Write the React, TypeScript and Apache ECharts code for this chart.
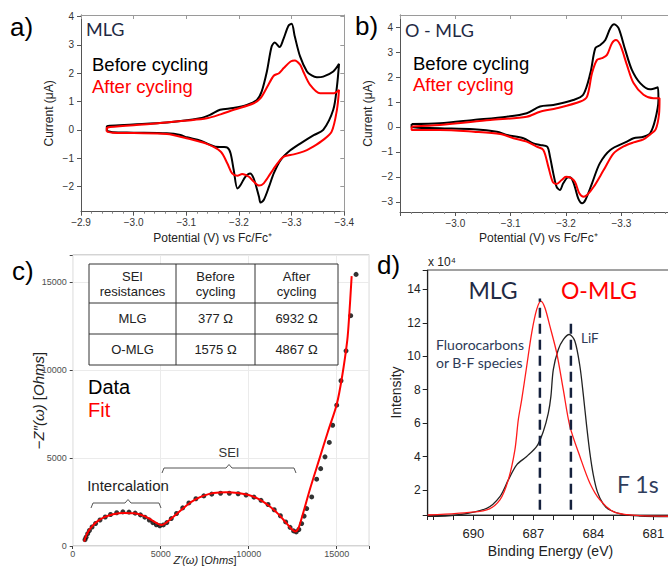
import React, { useEffect, useRef } from 'react';
import * as echarts from 'echarts';

type P = [number, number];

// ---------- Panel a (MLG) : potential (V) , current (µA) ----------
const aBefore: P[] = [
  [-2.949, -0.04], [-2.96, -0.08], [-3.0, -0.095], [-3.063, -0.12], [-3.089, -0.18], [-3.101, -0.26],
  [-3.127, -0.38], [-3.146, -0.53], [-3.155, -0.59], [-3.17, -0.6], [-3.178, -0.62], [-3.184, -0.82],
  [-3.19, -1.41], [-3.197, -2.06], [-3.203, -1.94], [-3.212, -1.65], [-3.221, -1.53], [-3.228, -1.71],
  [-3.238, -2.35], [-3.241, -2.56], [-3.247, -2.47], [-3.257, -2.0], [-3.266, -1.53], [-3.279, -1.06],
  [-3.298, -0.71], [-3.317, -0.47], [-3.342, -0.18], [-3.36, 0.0], [-3.379, 0.71], [-3.386, 1.53],
  [-3.39, 2.33], [-3.379, 2.06], [-3.36, 1.88], [-3.348, 1.86], [-3.338, 1.92], [-3.329, 2.06],
  [-3.316, 2.59], [-3.306, 3.29], [-3.3, 3.74], [-3.294, 3.67], [-3.284, 3.18], [-3.277, 2.92],
  [-3.268, 3.08], [-3.262, 2.94], [-3.253, 2.06], [-3.243, 1.35], [-3.234, 1.06], [-3.215, 0.88],
  [-3.189, 0.77], [-3.164, 0.71], [-3.145, 0.53], [-3.126, 0.41], [-3.063, 0.26], [-2.999, 0.19],
  [-2.955, 0.15], [-2.949, 0.12], [-2.949, -0.04],
];
const aAfter: P[] = [
  [-2.949, -0.06], [-2.96, -0.1], [-3.0, -0.11], [-3.063, -0.14], [-3.1, -0.29], [-3.139, -0.49],
  [-3.165, -0.76], [-3.178, -1.18], [-3.187, -1.53], [-3.197, -1.61], [-3.206, -1.55], [-3.219, -1.65],
  [-3.228, -1.82], [-3.238, -1.96], [-3.247, -1.88], [-3.26, -1.53], [-3.273, -1.18], [-3.285, -0.94],
  [-3.304, -0.86], [-3.316, -0.8], [-3.329, -0.71], [-3.341, -0.59], [-3.36, -0.35], [-3.376, -0.06],
  [-3.386, 0.71], [-3.39, 1.41], [-3.379, 1.29], [-3.354, 1.29], [-3.335, 1.59], [-3.322, 2.06],
  [-3.316, 2.3], [-3.306, 2.45], [-3.298, 2.41], [-3.285, 2.18], [-3.276, 2.0], [-3.266, 1.91],
  [-3.254, 1.53], [-3.241, 1.12], [-3.228, 0.94], [-3.19, 0.71], [-3.165, 0.55], [-3.139, 0.41],
  [-3.101, 0.33], [-3.031, 0.21], [-2.955, 0.1], [-2.949, 0.06], [-2.949, -0.06],
];

// ---------- Panel b (O-MLG) ----------
const bBefore: P[] = [
  [-2.921, 0.12], [-2.972, 0.15], [-3.033, 0.28], [-3.093, 0.41], [-3.129, 0.55], [-3.153, 0.82],
  [-3.177, 0.88], [-3.213, 1.08], [-3.231, 1.29], [-3.244, 2.16], [-3.253, 3.16], [-3.262, 3.29],
  [-3.271, 3.49], [-3.28, 3.96], [-3.287, 4.12], [-3.295, 3.96], [-3.307, 3.09], [-3.319, 2.29],
  [-3.334, 1.76], [-3.352, 1.51], [-3.366, 1.59], [-3.367, 1.08], [-3.361, 0.28], [-3.352, -0.25],
  [-3.34, -0.39], [-3.322, -0.45], [-3.31, -0.59], [-3.28, -0.92], [-3.261, -1.46], [-3.247, -2.26],
  [-3.235, -2.93], [-3.229, -3.06], [-3.222, -2.86], [-3.216, -2.4], [-3.21, -2.06], [-3.204, -2.02],
  [-3.195, -2.26], [-3.189, -2.53], [-3.183, -2.4], [-3.177, -1.86], [-3.171, -1.19], [-3.166, -0.79],
  [-3.153, -0.72], [-3.141, -0.66], [-3.123, -0.45], [-3.093, -0.32], [-3.075, -0.19], [-3.033, -0.09],
  [-2.972, -0.05], [-2.921, -0.01], [-2.921, 0.12],
];
const bAfter: P[] = [
  [-2.921, 0.02], [-2.972, 0.08], [-3.063, 0.28], [-3.129, 0.41], [-3.153, 0.61], [-3.183, 0.75],
  [-3.226, 1.02], [-3.238, 1.22], [-3.247, 2.16], [-3.256, 2.69], [-3.265, 2.76], [-3.274, 2.89],
  [-3.283, 3.36], [-3.29, 3.49], [-3.298, 3.29], [-3.31, 2.49], [-3.322, 1.76], [-3.34, 1.29],
  [-3.358, 1.15], [-3.369, 1.15], [-3.368, 0.5], [-3.362, -0.1], [-3.352, -0.3], [-3.34, -0.5],
  [-3.322, -0.62], [-3.304, -0.78], [-3.286, -1.06], [-3.268, -1.73], [-3.25, -2.4], [-3.238, -2.73],
  [-3.232, -2.8], [-3.224, -2.66], [-3.216, -2.2], [-3.207, -2.02], [-3.2, -2.0], [-3.192, -2.13],
  [-3.183, -2.29], [-3.176, -2.2], [-3.168, -1.59], [-3.159, -0.92], [-3.147, -0.79], [-3.129, -0.59],
  [-3.105, -0.45], [-3.081, -0.28], [-3.033, -0.19], [-2.972, -0.12], [-2.921, -0.12], [-2.921, 0.02],
];

// ---------- Panel c (Nyquist) ----------
const cDataZr = [700, 760, 850, 950, 1100, 1300, 1550, 1850, 2150, 2500, 2850, 3200, 3550, 3850, 4100, 4350,
  4550, 4750, 4950, 5150, 5350, 5600, 5900, 6250, 6600, 7000, 7450, 7900, 8400, 8900, 9400, 9850, 10300,
  10700, 11100, 11450, 11800, 12100, 12350, 12550, 12700, 12850, 13010, 13150, 13295, 13580, 13860, 14090,
  14335, 14580, 14770, 15000, 15245, 15530, 15795, 16100];
const cDataZi = [360, 500, 700, 880, 1080, 1280, 1480, 1650, 1790, 1890, 1940, 1930, 1870, 1770, 1640, 1480,
  1330, 1210, 1150, 1200, 1330, 1560, 1850, 2170, 2450, 2690, 2850, 2950, 3000, 3000, 2970, 2900, 2780,
  2600, 2360, 2060, 1720, 1370, 1060, 860, 800, 940, 1275, 1700, 2130, 2790, 3800, 4400,
  5070, 5890, 6870, 8010, 9400, 11100, 13100, 15450];
const cFitZr = [650, 750, 900, 1100, 1400, 1800, 2300, 2900, 3500, 4000, 4400, 4700, 4900, 5050, 5250, 5600,
  6000, 6500, 7000, 7500, 8000, 8700, 9400, 10000, 10600, 11200, 11700, 12100, 12400, 12650, 12800, 13000,
  13500, 14000, 14500, 15000, 15300, 15600, 15710, 15850];
const cFitZi = [250, 550, 850, 1120, 1400, 1640, 1810, 1880, 1860, 1730, 1530, 1340, 1230, 1200, 1280, 1560,
  1900, 2330, 2660, 2880, 3010, 3060, 3020, 2900, 2650, 2250, 1800, 1350, 1000, 820, 950, 1550,
  3300, 4900, 6500, 8050, 9600, 11700, 13100, 15350];

const tableHeader = ['SEI\nresistances', 'Before\ncycling', 'After\ncycling'];
const tableRows = [
  ['MLG', '377 Ω', '6932 Ω'],
  ['O-MLG', '1575 Ω', '4867 Ω'],
];

// ---------- Panel d (XPS F 1s), intensity x10^4 ----------
const dRed: P[] = [
  [692.28, 0.5], [690.83, 0.6], [689.33, 0.8], [688.67, 1.4], [688.25, 2.6], [687.92, 4.4], [687.75, 6.2],
  [687.58, 7.4], [687.33, 9.4], [687.08, 11.4], [686.83, 12.8], [686.62, 13.3], [686.42, 12.9],
  [686.17, 11.8], [685.83, 10.2], [685.5, 8.0], [685.17, 5.8], [684.67, 4.0], [684.17, 2.4], [683.67, 1.4],
  [683.0, 0.7], [682.3, 0.52], [681.67, 0.46], [680.0, 0.42],
];
const dBlack: P[] = [
  [692.28, 0.42], [690.83, 0.5], [689.33, 0.9], [688.67, 1.6], [688.25, 2.6], [687.83, 3.5], [687.33, 4.0],
  [686.83, 4.6], [686.5, 5.5], [686.25, 6.6], [686.12, 7.6], [686.0, 9.2], [685.75, 10.4], [685.5, 11.0],
  [685.2, 11.3], [684.92, 10.9], [684.67, 9.4], [684.5, 7.7], [684.33, 5.8], [684.17, 4.2], [684.0, 2.9],
  [683.8, 1.9], [683.5, 1.15], [683.17, 0.8], [682.5, 0.52], [681.67, 0.44], [680.0, 0.4],
];
const dPeakE = [686.67, 685.12];
const dPeakTop = [13.46, 12.27];
const dPeakBase = 0.82;

const SANS = "'Liberation Sans', Arial, sans-serif";
const CAL = "Lato, 'Noto Sans', sans-serif";
const NAVY = '#1f2a44';

const isInt = (v: number) => Math.abs(v - Math.round(v)) < 1e-6;
const fmtInt = (v: number) => (isInt(v) ? String(Math.round(v)).replace('-', '−') : '');

function cvX(gridIndex: number, hideEnds: boolean) {
  return {
    type: 'value', gridIndex, min: -3.4, max: -2.9, interval: 0.1, inverse: true,
    axisLine: { show: true, onZero: false, lineStyle: { color: '#555', width: 1 } },
    axisTick: { show: true, length: 4, lineStyle: { color: '#555' } },
    minorTick: { show: true, splitNumber: 5, length: 2, lineStyle: { color: '#888' } },
    axisLabel: {
      fontSize: 10, color: '#333', fontFamily: SANS, margin: 6,
      formatter: (v: number) => (hideEnds && (v > -2.95 || v < -3.35) ? '' : v.toFixed(1).replace('-', '−')),
    },
    splitLine: { show: false },
    name: 'Potential (V) vs Fc/Fc⁺', nameLocation: 'middle', nameGap: 20, nameMoveOverlap: false,
    nameTextStyle: { fontSize: 12, color: '#222', fontFamily: SANS },
  };
}
function cvXTop(gridIndex: number) {
  return {
    type: 'value', gridIndex, position: 'top', min: -3.4, max: -2.9, interval: 0.1, inverse: true,
    axisLine: { show: true, onZero: false, lineStyle: { color: '#9a9a9a' } },
    axisTick: { show: true, inside: true, length: 4, lineStyle: { color: '#9a9a9a' } },
    axisLabel: { show: false }, splitLine: { show: false },
  };
}
function cvY(gridIndex: number, min: number, max: number, gap: number) {
  return {
    type: 'value', gridIndex, min, max, minInterval: 1, maxInterval: 1, splitNumber: 7,
    axisLine: { show: true, onZero: false, lineStyle: { color: '#555' } },
    axisTick: { show: true, length: 4, lineStyle: { color: '#555' } },
    axisLabel: { fontSize: 10, color: '#333', fontFamily: SANS, margin: 7, formatter: fmtInt, showMinLabel: false, showMaxLabel: false },
    splitLine: { show: false },
    name: 'Current (μA)', nameLocation: 'middle', nameGap: gap, nameMoveOverlap: false,
    nameTextStyle: { fontSize: 12, color: '#222', fontFamily: SANS },
  };
}

function txt(text: string, x: number, y: number, size: number, fill: string, font = SANS, align = 'left', extra: any = {}) {
  return {
    type: 'text', x, y, silent: true, z: 20,
    style: { text, fontSize: size, fontFamily: font, fill, align, verticalAlign: 'middle', ...extra },
  };
}

function buildGraphic() {
  const els: any[] = [];
  els.push(txt('a)', 10, 27, 26, '#000'));
  els.push(txt('b)', 355, 26, 26, '#000'));
  els.push(txt('c)', 12, 271, 26, '#000'));
  els.push(txt('d)', 377, 265, 26, '#000'));

  els.push(txt('MLG', 86, 28.5, 18, NAVY, CAL));
  els.push(txt('Before cycling', 92, 64.5, 18.5, '#000'));
  els.push(txt('After cycling', 92, 86.5, 18.5, '#ff0000'));
  els.push(txt('O - MLG', 405, 29.5, 18, NAVY, CAL));
  els.push(txt('Before cycling', 413, 63.5, 18.5, '#000'));
  els.push(txt('After cycling', 413, 84.5, 18.5, '#ff0000'));

  // table
  const colX = [89, 176, 255, 338];
  const rowY = [264, 303, 334, 365];
  els.push({
    type: 'rect', z: 15, silent: true,
    shape: { x: colX[0], y: rowY[0], width: colX[3] - colX[0], height: rowY[3] - rowY[0] },
    style: { fill: '#fff', stroke: '#333', lineWidth: 1 },
  });
  for (let i = 1; i < 3; i++) {
    els.push({ type: 'line', z: 16, silent: true, shape: { x1: colX[i], y1: rowY[0], x2: colX[i], y2: rowY[3] }, style: { stroke: '#333', lineWidth: 1 } });
    els.push({ type: 'line', z: 16, silent: true, shape: { x1: colX[0], y1: rowY[i], x2: colX[3], y2: rowY[i] }, style: { stroke: '#333', lineWidth: 1 } });
  }
  tableHeader.forEach((h, j) => {
    els.push(txt(h, (colX[j] + colX[j + 1]) / 2, (rowY[0] + rowY[1]) / 2 + 0.5, 13, '#222', SANS, 'center', { lineHeight: 15.6 }));
  });
  tableRows.forEach((row, i) => {
    row.forEach((cell, j) => {
      els.push(txt(cell, (colX[j] + colX[j + 1]) / 2, (rowY[i + 1] + rowY[i + 2]) / 2, 13, '#222', SANS, 'center'));
    });
  });

  els.push(txt('Data', 88, 386.5, 20, '#000'));
  els.push(txt('Fit', 88, 409.5, 20, '#ff0000'));
  els.push(txt('SEI', 229, 452, 13, '#333', SANS, 'center'));
  els.push(txt('Intercalation', 128, 485, 15, '#222', SANS, 'center'));
  els.push({
    type: 'polyline', silent: true, z: 20,
    shape: { points: [[91, 508], [93, 503], [125, 503], [128, 499.5], [131, 503], [159, 503], [161, 508]] },
    style: { stroke: '#555', fill: 'none', lineWidth: 1 },
  });
  els.push({
    type: 'polyline', silent: true, z: 20,
    shape: { points: [[162, 473], [164, 468], [226, 468], [229, 464.5], [232, 468], [294, 468], [296, 473]] },
    style: { stroke: '#555', fill: 'none', lineWidth: 1 },
  });
  // panel c x-axis title, kept inside the canvas between the 5000 and 10000 labels
  els.push(txt('{i|Z′(ω)} [{i|Ohms}]', 205, 560, 11, '#222', SANS, 'center', {
    rich: { i: { fontStyle: 'italic', fontSize: 11, fontFamily: SANS, fill: '#222' } },
  }));

  // panel d texts
  els.push(txt('x 10⁴', 428, 262, 12, '#222'));
  els.push(txt('MLG', 493, 290, 23, NAVY, CAL, 'center'));
  els.push(txt('O-MLG', 599, 290, 23, '#ff0000', CAL, 'center'));
  els.push(txt('Fluorocarbons', 436, 344, 14, '#2c3a57', CAL));
  els.push(txt('or B-F species', 436, 362, 14, '#2c3a57', CAL));
  els.push(txt('LiF', 581, 338, 13.5, '#2c3a57', CAL));
  els.push(txt('F 1s', 617, 484, 23, '#2f3d5c', CAL));
  return els;
}

function buildOption(): any {
  const cData = cDataZr.map((x, i) => [x, cDataZi[i]]);
  const cFit = cFitZr.map((x, i) => [x, cFitZi[i]]);
  const lineBase = { type: 'line', symbol: 'none', showSymbol: false, silent: true };

  return {
    animation: false,
    backgroundColor: '#fff',
    grid: [
      { left: 81, top: 15, width: 263.3, height: 196.7, outerBoundsMode: 'none', containLabel: false },
      { left: 400, top: 15, width: 276.7, height: 197, outerBoundsMode: 'none', containLabel: false },
      { left: 72.7, top: 255, width: 296.6, height: 291, outerBoundsMode: 'none', containLabel: false, show: true, borderColor: '#a9a9a9', borderWidth: 1 },
      { left: 427.7, top: 270, width: 245.6, height: 245, outerBoundsMode: 'none', containLabel: false, show: true, borderColor: '#444', borderWidth: 1 },
    ],
    xAxis: [
      cvX(0, false),
      cvXTop(0),
      cvX(1, true),
      cvXTop(1),
      {
        type: 'value', gridIndex: 2, min: 0, max: 16852, interval: 5000,
        axisLine: { show: false },
        axisTick: { show: true, length: 3, lineStyle: { color: '#444' } },
        axisLabel: { fontSize: 9, color: '#4d4d4d', fontFamily: SANS, margin: 3, formatter: (v: number) => (v % 5000 === 0 ? String(v) : '') },
        splitLine: { show: true, lineStyle: { color: '#ebebeb', width: 1 } },
      },
      {
        type: 'value', gridIndex: 3, min: 680, max: 692.28, interval: 1, inverse: true,
        axisLine: { show: true, onZero: false, lineStyle: { color: '#222', width: 1.2 } },
        axisTick: { show: true, length: 5, lineStyle: { color: '#222' } },
        axisLabel: {
          fontSize: 13, color: '#222', fontFamily: SANS, margin: 12,
          formatter: (v: number) => (isInt(v) && Math.round(v) % 3 === 0 ? String(Math.round(v)) : ''),
        },
        splitLine: { show: false },
        name: 'Binding Energy (eV)', nameLocation: 'middle', nameGap: 29, nameMoveOverlap: false,
        nameTextStyle: { fontSize: 14, color: '#222', fontFamily: SANS },
      },
    ],
    yAxis: [
      cvY(0, -2.88, 4.05, 26),
      {
        type: 'value', gridIndex: 0, position: 'right', min: -2.88, max: 4.05, minInterval: 1, maxInterval: 1, splitNumber: 7,
        axisLine: { show: true, onZero: false, lineStyle: { color: '#9a9a9a' } },
        axisTick: { show: true, inside: true, length: 4, lineStyle: { color: '#9a9a9a' } },
        axisLabel: { show: false }, splitLine: { show: false },
      },
      cvY(1, -3.41, 4.49, 26),
      {
        type: 'value', gridIndex: 2, min: 0, max: 16553, interval: 5000,
        axisLine: { show: false },
        axisTick: { show: true, length: 3, lineStyle: { color: '#444' } },
        axisLabel: { fontSize: 9, color: '#4d4d4d', fontFamily: SANS, margin: 6, formatter: (v: number) => (v % 5000 === 0 ? String(v) : '') },
        splitLine: { show: true, lineStyle: { color: '#ebebeb', width: 1 } },
        name: "−{i|Z″(ω)} [{i|Ohms}]", nameLocation: 'middle', nameGap: 27, nameMoveOverlap: false,
        nameTextStyle: { fontSize: 15, color: '#222', fontFamily: SANS, rich: { i: { fontStyle: 'italic', fontSize: 15, color: '#222', fontFamily: SANS } } },
      },
      {
        type: 'value', gridIndex: 3, min: 0.5, max: 15.16, minInterval: 2, maxInterval: 2, splitNumber: 7,
        axisLine: { show: true, onZero: false, lineStyle: { color: '#222', width: 1.2 } },
        axisTick: { show: true, length: 5, lineStyle: { color: '#222' } },
        axisLabel: {
          fontSize: 12, color: '#222', fontFamily: SANS, margin: 7, padding: [0, 0, 7, 0],
          formatter: (v: number) => (isInt(v) && Math.round(v) % 2 === 0 ? String(Math.round(v)) : ''),
        },
        splitLine: { show: false },
        name: 'Intensity', nameLocation: 'middle', nameGap: 25, nameMoveOverlap: false,
        nameTextStyle: { fontSize: 14, color: '#222', fontFamily: SANS },
      },
    ],
    series: [
      { ...lineBase, xAxisIndex: 0, yAxisIndex: 0, data: aBefore, smooth: 0.3, lineStyle: { color: '#000', width: 2 } },
      { ...lineBase, xAxisIndex: 0, yAxisIndex: 0, data: aAfter, smooth: 0.3, lineStyle: { color: '#ff0000', width: 2 } },
      { ...lineBase, xAxisIndex: 2, yAxisIndex: 2, data: bBefore, smooth: 0.3, lineStyle: { color: '#000', width: 2 } },
      { ...lineBase, xAxisIndex: 2, yAxisIndex: 2, data: bAfter, smooth: 0.3, lineStyle: { color: '#ff0000', width: 2 } },
      { type: 'scatter', xAxisIndex: 4, yAxisIndex: 3, data: cData, symbolSize: 5, itemStyle: { color: '#000' }, silent: true, z: 2 },
      { ...lineBase, xAxisIndex: 4, yAxisIndex: 3, data: cFit, smooth: 0.3, lineStyle: { color: '#ff0000', width: 2 }, z: 3 },
      { ...lineBase, xAxisIndex: 5, yAxisIndex: 4, data: dBlack, smooth: 0.3, clip: false, lineStyle: { color: '#222', width: 1.3 } },
      { ...lineBase, xAxisIndex: 5, yAxisIndex: 4, data: dRed, smooth: 0.3, clip: false, lineStyle: { color: '#ff1a1a', width: 1.3 } },
      ...dPeakE.map((e, i) => ({
        ...lineBase, xAxisIndex: 5, yAxisIndex: 4, z: 4,
        data: [[e, dPeakBase], [e, dPeakTop[i]]],
        lineStyle: { color: '#15213d', width: 2.5, type: [10, 6] },
      })),
    ],
    graphic: buildGraphic(),
  };
}

export default function App() {
  const ref = useRef<HTMLDivElement>(null);
  useEffect(() => {
    if (!ref.current) return;
    const chart = echarts.init(ref.current, undefined, { renderer: 'svg' });
    chart.setOption(buildOption());
    return () => chart.dispose();
  }, []);
  return (
    <div
      ref={ref}
      style={{ position: 'absolute', left: 0, top: 0, width: 668, height: 568, background: '#fff' }}
    />
  );
}
